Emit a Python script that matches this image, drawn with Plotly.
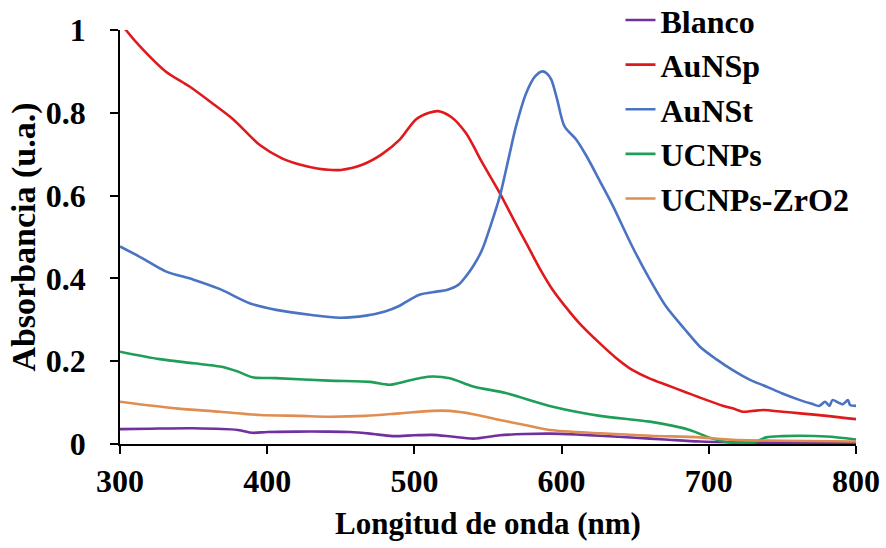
import plotly.graph_objects as go

# ---------------- data ----------------
wl_blanco = [300, 320, 350, 380, 390, 400, 420, 440, 456, 470, 485, 500, 512, 525, 540, 558,
             575, 592, 610, 626, 650, 670, 694, 720, 750, 800]
abs_blanco = [0.036, 0.037, 0.038, 0.034, 0.027, 0.029, 0.030, 0.030, 0.029, 0.025, 0.019, 0.021,
              0.022, 0.018, 0.013, 0.021, 0.024, 0.025, 0.023, 0.020, 0.015, 0.011, 0.006, 0.004,
              0.003, 0.002]

wl_aunsp = [300, 304, 315, 331, 347, 362, 377, 395, 410, 422, 435, 450, 465, 478, 490, 501, 510,
            516, 525, 535, 546, 558, 567, 576, 585, 594, 603, 612, 626, 637, 648, 660, 671, 683,
            694, 710, 718, 723, 730, 737, 750, 762, 780, 800]
abs_aunsp = [1.02, 1.0, 0.955, 0.90, 0.864, 0.825, 0.784, 0.722, 0.69, 0.675, 0.665, 0.662, 0.675,
             0.70, 0.735, 0.784, 0.80, 0.804, 0.79, 0.751, 0.68, 0.606, 0.545, 0.485, 0.425, 0.372,
             0.33, 0.292, 0.243, 0.208, 0.179, 0.158, 0.143, 0.127, 0.112, 0.092, 0.084, 0.078,
             0.080, 0.082, 0.078, 0.074, 0.068, 0.060]

wl_aunst = [300, 315, 331, 350, 368, 388, 406, 429, 449, 467, 480, 490, 503, 515, 522, 530, 535,
            540, 546, 552, 558, 564, 569, 576, 582, 587, 590, 593, 597, 602, 610, 617, 626, 635,
            648, 660, 671, 683, 694, 705, 716, 728, 739, 750, 762, 770, 775, 779, 782, 784, 788,
            791, 794.5, 796, 800]
abs_aunst = [0.477, 0.449, 0.417, 0.397, 0.374, 0.340, 0.324, 0.312, 0.305, 0.310, 0.320, 0.334,
             0.360, 0.368, 0.372, 0.385, 0.405, 0.43, 0.469, 0.53, 0.598, 0.69, 0.767, 0.848,
             0.888, 0.900, 0.895, 0.880, 0.832, 0.767, 0.735, 0.695, 0.635, 0.574, 0.477, 0.397,
             0.332, 0.28, 0.235, 0.205, 0.179, 0.155, 0.139, 0.122, 0.106, 0.097, 0.092, 0.102,
             0.092, 0.106, 0.100, 0.096, 0.106, 0.094, 0.092]

wl_ucnps = [300, 327, 350, 368, 380, 390, 406, 442, 470, 483, 495, 505, 512, 524, 540, 562, 594,
            626, 660, 687, 700, 710, 721, 732, 739, 750, 762, 780, 800]
abs_ucnps = [0.223, 0.205, 0.195, 0.187, 0.175, 0.161, 0.159, 0.153, 0.150, 0.143, 0.152, 0.160,
             0.163, 0.159, 0.139, 0.123, 0.090, 0.068, 0.054, 0.034, 0.016, 0.006, 0.002, 0.006,
             0.016, 0.019, 0.020, 0.018, 0.011]

wl_zro2 = [300, 338, 368, 395, 422, 442, 467, 490, 512, 524, 540, 558, 575, 592, 626, 660, 694,
           716, 750, 800]
abs_zro2 = [0.102, 0.086, 0.078, 0.070, 0.068, 0.066, 0.068, 0.074, 0.080, 0.080, 0.072, 0.058,
            0.046, 0.034, 0.026, 0.020, 0.016, 0.010, 0.008, 0.006]

series_names = ["Blanco", "AuNSp", "AuNSt", "UCNPs", "UCNPs-ZrO2"]
x_ticks = [300, 400, 500, 600, 700, 800]
y_ticks = [0, 0.2, 0.4, 0.6, 0.8, 1]
y_tick_labels = ["0", "0.2", "0.4", "0.6", "0.8", "1"]

# ---------------- styling ----------------
colors = ["#7030A0", "#E0191C", "#4A73C2", "#1F9E57", "#E08D52"]
FONT = "Times New Roman, Liberation Serif, DejaVu Serif, Noto Serif, serif"

fig = go.Figure()
for name, xs, ys, c in zip(series_names,
                           [wl_blanco, wl_aunsp, wl_aunst, wl_ucnps, wl_zro2],
                           [abs_blanco, abs_aunsp, abs_aunst, abs_ucnps, abs_zro2],
                           colors):
    fig.add_trace(go.Scatter(x=xs, y=ys, mode="lines", name=name,
                             line=dict(color=c, width=2.6, shape="spline", smoothing=0.8)))

fig.update_layout(
    width=886, height=548,
    margin=dict(l=120, r=30, t=30, b=104, autoexpand=False),
    paper_bgcolor="white", plot_bgcolor="white",
    font=dict(family=FONT, color="black", size=30, weight="bold"),
    showlegend=True,
    legend=dict(x=0.680, y=1.09, xanchor="left", yanchor="top",
                font=dict(family=FONT, size=32, color="black", weight="bold"),
                bgcolor="rgba(0,0,0,0)", borderwidth=0, tracegroupgap=0),
)
fig.update_xaxes(
    range=[300, 800], tickvals=x_ticks, ticktext=[str(v) for v in x_ticks],
    showgrid=False, zeroline=False, showline=True, linecolor="black", linewidth=1.5,
    ticks="outside", ticklen=8, tickwidth=1.5, tickcolor="black",
    tickfont=dict(family=FONT, size=32, color="black", weight="bold"),
    title=dict(text="Longitud de onda (nm)", standoff=14,
               font=dict(family=FONT, size=31, color="black", weight="bold")),
)
fig.update_yaxes(
    range=[0, 1], tickvals=y_ticks, ticktext=y_tick_labels,
    showgrid=False, zeroline=False, showline=True, linecolor="black", linewidth=1.5,
    ticks="outside", ticklen=8, tickwidth=1.5, tickcolor="black",
    ticklabelstandoff=18,
    tickfont=dict(family=FONT, size=32, color="black", weight="bold"),
    title=dict(text="Absorbancia (u.a.)", standoff=0,
               font=dict(family=FONT, size=34, color="black", weight="bold")),
)

fig.write_html("out.html")
